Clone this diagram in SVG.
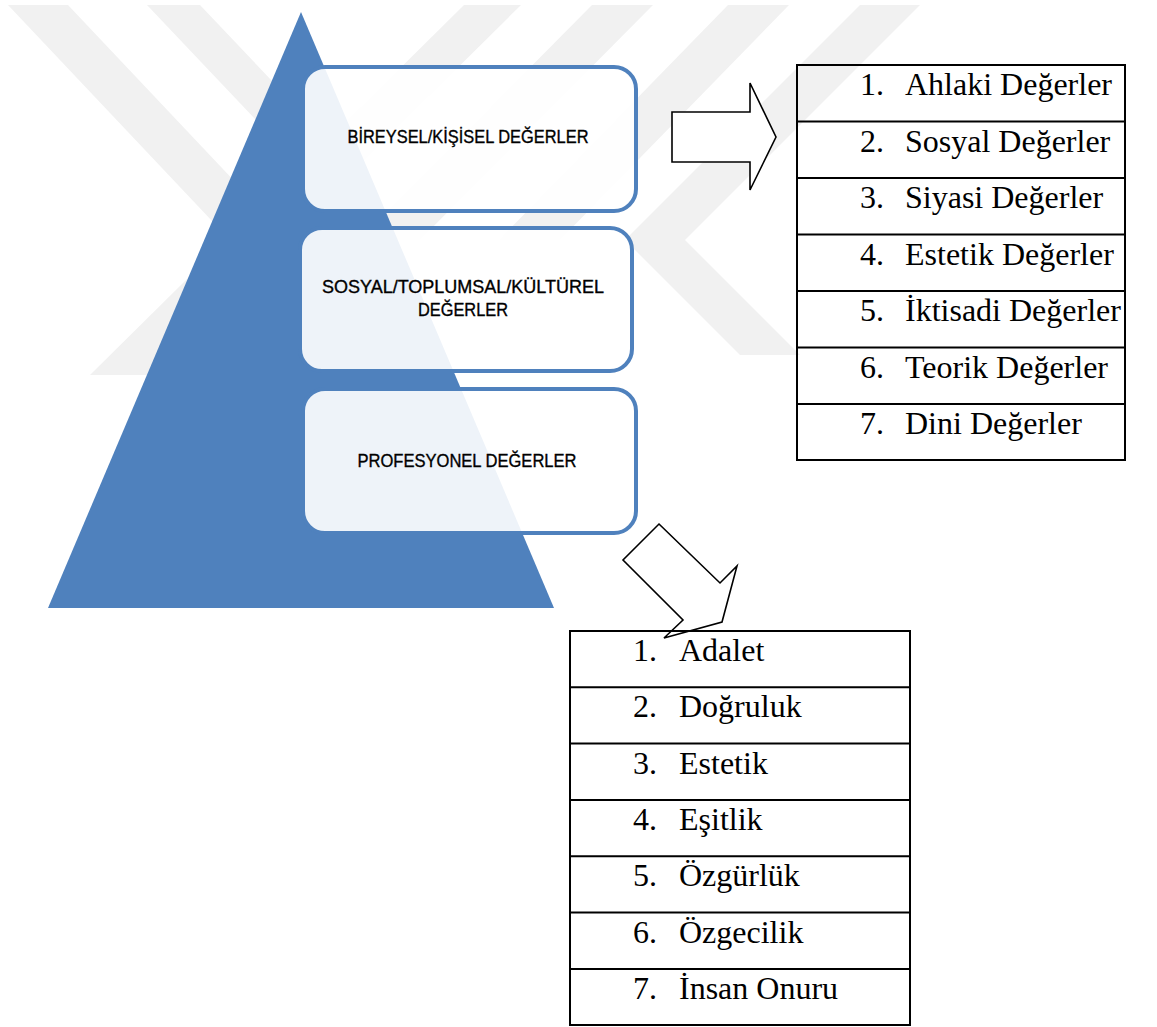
<svg xmlns="http://www.w3.org/2000/svg" width="1157" height="1027" viewBox="0 0 1157 1027">
<style>
.wm{fill:#f1f1f1}
.box{fill:#ffffff;fill-opacity:0.9;stroke:#4f81bd;stroke-width:4}
.bt{font-family:"Liberation Sans",Arial,sans-serif;font-size:18px;fill:#000;stroke:#000;stroke-width:0.35}
.tb{fill:none;stroke:#000;stroke-width:2}
.tt{font-family:"Liberation Serif","Times New Roman",serif;font-size:32px;fill:#000}
.arr{fill:#ffffff;stroke:#000;stroke-width:1.6;stroke-linejoin:miter}
</style>
<rect width="1157" height="1027" fill="#ffffff"/>
<g id="watermark">
<polygon class="wm" points="8,5 68,5 290,240 230,240"/>
<polygon class="wm" points="147,5 200,5 366,180 313,180"/>
<polygon class="wm" points="464,5 521,5 147,375 90,375"/>
<polygon class="wm" points="592,5 653,5 420,240 359,240"/>
<polygon class="wm" points="728,5 789,5 560,240 499,240"/>
<polygon class="wm" points="860,5 920,5 685,240 800,355 740,355 625,240"/>
</g>
<g id="pyramid">
<polygon points="301,12 554,608 48,608" fill="#4f81bd"/>
</g>
<g id="box1">
<rect class="box" x="303" y="67" width="333" height="144" rx="22"/>
<text class="bt" x="468" y="143" text-anchor="middle" textLength="241" lengthAdjust="spacingAndGlyphs">BİREYSEL/KİŞİSEL DEĞERLER</text>
</g>
<g id="box2">
<rect class="box" x="300" y="228" width="332" height="143" rx="22"/>
<text class="bt" x="463" y="293" text-anchor="middle" textLength="282" lengthAdjust="spacingAndGlyphs">SOSYAL/TOPLUMSAL/KÜLTÜREL</text>
<text class="bt" x="463" y="316" text-anchor="middle" textLength="90" lengthAdjust="spacingAndGlyphs">DEĞERLER</text>
</g>
<g id="box3">
<rect class="box" x="303" y="389" width="333" height="144" rx="22"/>
<text class="bt" x="467" y="467" text-anchor="middle" textLength="219" lengthAdjust="spacingAndGlyphs">PROFESYONEL DEĞERLER</text>
</g>
<g id="table2-bg">
<rect x="570" y="631" width="340" height="394" fill="#ffffff"/>
</g>
<g id="connectors">
<polygon class="arr" points="672,112 750,112 750,83 776,137 750,190 750,162 672,162"/>
<polygon class="arr" points="659,524 720,583 737,566 722,622 664,638 683,620 623,560" fill-opacity="0"/>
</g>
<g id="table1">
<rect class="tb" x="797" y="65" width="328" height="395"/>
<line class="tb" x1="797" y1="121.5" x2="1125" y2="121.5"/>
<line class="tb" x1="797" y1="178" x2="1125" y2="178"/>
<line class="tb" x1="797" y1="234.5" x2="1125" y2="234.5"/>
<line class="tb" x1="797" y1="291" x2="1125" y2="291"/>
<line class="tb" x1="797" y1="347.5" x2="1125" y2="347.5"/>
<line class="tb" x1="797" y1="404" x2="1125" y2="404"/>
<text class="tt" x="860" y="95">1.</text><text class="tt" x="905" y="95">Ahlaki Değerler</text>
<text class="tt" x="860" y="151.5">2.</text><text class="tt" x="905" y="151.5">Sosyal Değerler</text>
<text class="tt" x="860" y="208">3.</text><text class="tt" x="905" y="208">Siyasi Değerler</text>
<text class="tt" x="860" y="264.5">4.</text><text class="tt" x="905" y="264.5">Estetik Değerler</text>
<text class="tt" x="860" y="321">5.</text><text class="tt" x="905" y="321">İktisadi Değerler</text>
<text class="tt" x="860" y="377.5">6.</text><text class="tt" x="905" y="377.5">Teorik Değerler</text>
<text class="tt" x="860" y="434">7.</text><text class="tt" x="905" y="434">Dini Değerler</text>
</g>
<g id="table2">
<rect class="tb" x="570" y="631" width="340" height="394"/>
<line class="tb" x1="570" y1="687.3" x2="910" y2="687.3"/>
<line class="tb" x1="570" y1="743.6" x2="910" y2="743.6"/>
<line class="tb" x1="570" y1="800" x2="910" y2="800"/>
<line class="tb" x1="570" y1="856.3" x2="910" y2="856.3"/>
<line class="tb" x1="570" y1="912.6" x2="910" y2="912.6"/>
<line class="tb" x1="570" y1="969" x2="910" y2="969"/>
<text class="tt" x="633" y="661">1.</text><text class="tt" x="679" y="661">Adalet</text>
<text class="tt" x="633" y="717.3">2.</text><text class="tt" x="679" y="717.3">Doğruluk</text>
<text class="tt" x="633" y="773.6">3.</text><text class="tt" x="679" y="773.6">Estetik</text>
<text class="tt" x="633" y="830">4.</text><text class="tt" x="679" y="830">Eşitlik</text>
<text class="tt" x="633" y="886.3">5.</text><text class="tt" x="679" y="886.3">Özgürlük</text>
<text class="tt" x="633" y="942.6">6.</text><text class="tt" x="679" y="942.6">Özgecilik</text>
<text class="tt" x="633" y="999">7.</text><text class="tt" x="679" y="999">İnsan Onuru</text>
</g>
</svg>
